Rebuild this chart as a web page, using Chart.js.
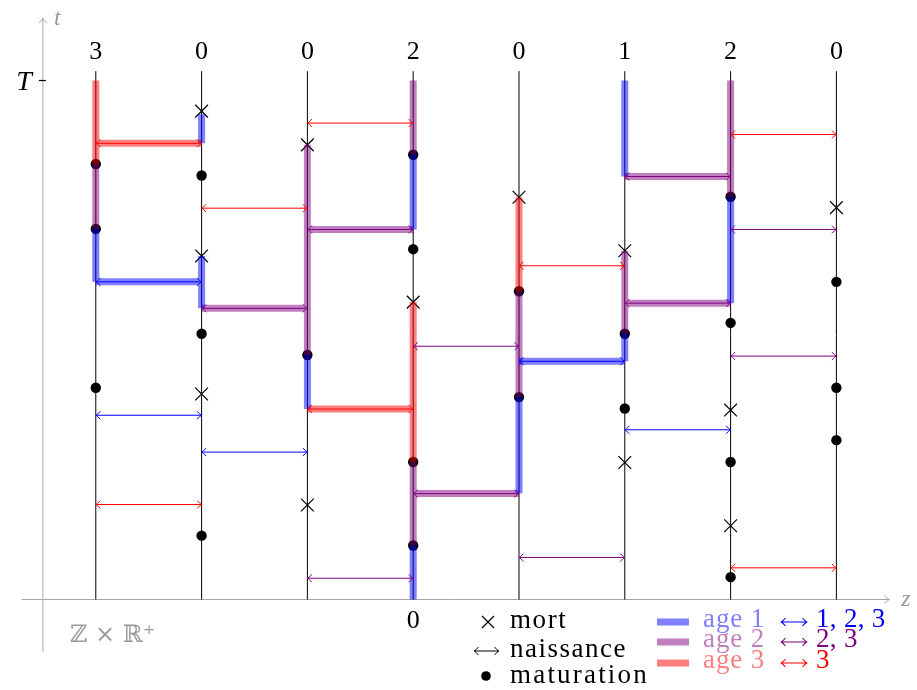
<!DOCTYPE html>
<html>
<head>
<meta charset="utf-8">
<script src="https://cdn.jsdelivr.net/npm/chart.js@4.4.0/dist/chart.umd.min.js"></script>
<style>
  html, body { margin: 0; padding: 0; background: #fff; }
  canvas { display: block; }
</style>
</head>
<body>
<canvas id="chart" width="917" height="690"></canvas>
<script>
// sites (z) and their counts shown on top
const SITES = [1, 2, 3, 4, 5, 6, 7, 8];
const SITE_LABELS = ['3', '0', '0', '2', '0', '1', '2', '0'];
const T_END = 10;        // final time T
const SITE_TOP = 10.18;  // vertical lines go slightly above T

// age 1, 2, 3
const AGE_COLORS = ['#0000ff', '#800080', '#ff0000'];
const AGE_FILL = ['rgba(0,0,255,0.5)', 'rgba(128,0,128,0.5)', 'rgba(255,0,0,0.5)'];
const AGE_LIGHT = ['#8080ff', '#bf80bf', '#ff8080'];

// maturation events [site, t]
const maturations = [
  [1, 8.39], [1, 7.14], [1, 4.08],
  [2, 8.17], [2, 5.12], [2, 1.23],
  [3, 4.71],
  [4, 8.57], [4, 6.75], [4, 2.65], [4, 1.04],
  [5, 5.94], [5, 3.90],
  [6, 5.12], [6, 3.68],
  [7, 7.76], [7, 5.33], [7, 2.65], [7, 0.43],
  [8, 6.12], [8, 4.08], [8, 3.07]
];

// deaths [site, t]
const deaths = [
  [2, 9.41], [2, 6.62], [2, 3.96],
  [3, 8.76], [3, 1.82],
  [4, 5.73],
  [5, 7.75],
  [6, 6.72], [6, 2.64],
  [7, 3.65], [7, 1.42],
  [8, 7.55]
];

// births [site a, site b, t, age of parent, traced]
const births = [
  [1, 2, 8.79, 3, 1], [1, 2, 6.12, 1, 1], [1, 2, 3.55, 1, 0], [1, 2, 1.83, 3, 0],
  [2, 3, 7.54, 3, 0], [2, 3, 5.61, 2, 1], [2, 3, 2.84, 1, 0],
  [3, 4, 9.18, 3, 0], [3, 4, 7.13, 2, 1], [3, 4, 3.67, 3, 1], [3, 4, 0.41, 2, 0],
  [4, 5, 4.88, 2, 0], [4, 5, 2.04, 2, 1],
  [5, 6, 6.43, 3, 0], [5, 6, 4.59, 1, 1], [5, 6, 0.81, 2, 0],
  [6, 7, 8.15, 2, 1], [6, 7, 5.71, 2, 1], [6, 7, 3.27, 1, 0],
  [7, 8, 8.96, 3, 0], [7, 8, 7.13, 2, 0], [7, 8, 4.69, 2, 0], [7, 8, 0.61, 3, 0]
];

// traced lineage, vertical pieces [site, t from, t to, age]
const lineage = [
  [1, 8.39, 10, 3], [1, 7.14, 8.39, 2], [1, 6.12, 7.14, 1],
  [2, 8.79, 9.35, 1], [2, 5.61, 6.62, 1],
  [3, 4.71, 8.76, 2], [3, 3.67, 4.71, 1],
  [4, 8.57, 10, 2], [4, 7.13, 8.57, 1], [4, 2.65, 5.73, 3], [4, 1.04, 2.65, 2], [4, 0, 1.04, 1],
  [5, 5.94, 7.75, 3], [5, 3.90, 5.94, 2], [5, 2.04, 3.90, 1],
  [6, 8.15, 10, 1], [6, 5.12, 6.72, 2], [6, 4.59, 5.12, 1],
  [7, 7.76, 10, 2], [7, 5.71, 7.76, 1]
];

// axes extents
const AXIS_X = 0.5;
const X_AXIS_RANGE = [0.3, 8.5];
const Y_AXIS_RANGE = [-1.0, 11.2];

const SERIF = '"Liberation Serif", "DejaVu Serif", serif';

const datasets = [];

datasets.push({
  data: SITES.flatMap(s => [{ x: s, y: 0 }, { x: s, y: SITE_TOP }, { x: s, y: null }]),
  borderColor: '#000',
  borderWidth: 1,
  pointRadius: 0,
  order: 10
});

datasets.push({
  data: maturations.map(([s, t]) => ({ x: s, y: t })),
  showLine: false,
  pointRadius: 5.2,
  pointBackgroundColor: '#000',
  pointBorderWidth: 0,
  order: 6
});

datasets.push({
  data: deaths.map(([s, t]) => ({ x: s, y: t })),
  showLine: false,
  pointStyle: 'crossRot',
  pointRadius: 9,
  pointBorderColor: '#000',
  pointBorderWidth: 1.2,
  order: 6
});

[1, 2, 3].forEach(age => {
  const pts = [];
  lineage.filter(l => l[3] === age).forEach(([s, t0, t1]) => {
    pts.push({ x: s, y: t0 }, { x: s, y: t1 }, { x: s, y: null });
  });
  births.filter(b => b[4] && b[3] === age).forEach(([a, b, t]) => {
    pts.push({ x: a, y: t }, { x: b, y: t }, { x: b, y: null });
  });
  datasets.push({
    data: pts,
    borderColor: AGE_FILL[age - 1],
    borderWidth: 7,
    borderCapStyle: 'butt',
    pointRadius: 0,
    order: 2
  });
});

function arrowLine(ctx, x1, x2, yy, color, w) {
  ctx.strokeStyle = color;
  ctx.lineWidth = w;
  ctx.beginPath();
  ctx.moveTo(x1, yy);
  ctx.lineTo(x2, yy);
  ctx.moveTo(x1 + 4.5, yy - 4);
  ctx.quadraticCurveTo(x1 + 1.5, yy - 0.6, x1 + 0.3, yy);
  ctx.quadraticCurveTo(x1 + 1.5, yy + 0.6, x1 + 4.5, yy + 4);
  ctx.moveTo(x2 - 4.5, yy - 4);
  ctx.quadraticCurveTo(x2 - 1.5, yy - 0.6, x2 - 0.3, yy);
  ctx.quadraticCurveTo(x2 - 1.5, yy + 0.6, x2 - 4.5, yy + 4);
  ctx.stroke();
}

function label(ctx, s, x, y, font, color, align, spacing) {
  ctx.font = font;
  ctx.fillStyle = color;
  ctx.textAlign = align || 'left';
  ctx.textBaseline = 'alphabetic';
  ctx.letterSpacing = spacing || '0px';
  ctx.fillText(s, x, y);
  ctx.letterSpacing = '0px';
}

const overlay = {
  id: 'overlay',
  beforeDatasetsDraw(chart) {
    const { ctx, scales: { x, y } } = chart;
    const ax = x.getPixelForValue(AXIS_X);
    const ay = y.getPixelForValue(0);
    const xr = x.getPixelForValue(X_AXIS_RANGE[1]);
    const yt = y.getPixelForValue(Y_AXIS_RANGE[1]);
    ctx.save();
    ctx.strokeStyle = '#a6a6a6';
    ctx.lineWidth = 1;
    ctx.beginPath();
    ctx.moveTo(x.getPixelForValue(X_AXIS_RANGE[0]), ay);
    ctx.lineTo(xr, ay);
    ctx.moveTo(xr - 5, ay - 4); ctx.quadraticCurveTo(xr - 1.5, ay - 0.6, xr, ay);
    ctx.quadraticCurveTo(xr - 1.5, ay + 0.6, xr - 5, ay + 4);
    ctx.moveTo(ax, y.getPixelForValue(Y_AXIS_RANGE[0]));
    ctx.lineTo(ax, yt);
    ctx.moveTo(ax - 4, yt + 5); ctx.quadraticCurveTo(ax - 0.6, yt + 1.5, ax, yt);
    ctx.quadraticCurveTo(ax + 0.6, yt + 1.5, ax + 4, yt + 5);
    ctx.stroke();
    // T tick
    const yT = y.getPixelForValue(T_END);
    ctx.strokeStyle = '#000';
    ctx.lineWidth = 1.2;
    ctx.beginPath();
    ctx.moveTo(ax - 4, yT);
    ctx.lineTo(ax + 3, yT);
    ctx.stroke();
    ctx.restore();
  },
  afterDatasetsDraw(chart) {
    const { ctx, scales: { x, y } } = chart;
    ctx.save();
    births.forEach(([a, b, t, age]) => {
      arrowLine(ctx, x.getPixelForValue(a), x.getPixelForValue(b), y.getPixelForValue(t), AGE_COLORS[age - 1], 1);
    });

    const ax = x.getPixelForValue(AXIS_X);
    const ay = y.getPixelForValue(0);
    const yT = y.getPixelForValue(T_END);
    const f = '26px ' + SERIF;
    const fl = '27px ' + SERIF;

    SITES.forEach((s, i) => label(ctx, SITE_LABELS[i], x.getPixelForValue(s), yT - 22, f, '#000', 'center'));
    label(ctx, 'T', ax - 11, yT + 9, 'italic 28px ' + SERIF, '#000', 'right');
    label(ctx, '0', x.getPixelForValue(4), ay + 28, f, '#000', 'center');
    label(ctx, 't', ax + 11, 25, 'italic 24px ' + SERIF, '#999', 'left');
    label(ctx, 'z', x.getPixelForValue(X_AXIS_RANGE[1]) + 12, ay + 6, 'italic 24px ' + SERIF, '#999', 'left');
    label(ctx, 'ℤ × ℝ⁺', ax + 27, ay + 42, '24px "DejaVu Serif", serif', '#9a9a9a', 'left');

    // legend, left block
    ctx.strokeStyle = '#000';
    ctx.lineWidth = 1.2;
    ctx.beginPath();
    ctx.moveTo(482, 616); ctx.lineTo(494, 628);
    ctx.moveTo(494, 616); ctx.lineTo(482, 628);
    ctx.stroke();
    arrowLine(ctx, 474, 499, 651, '#000', 1);
    ctx.fillStyle = '#000';
    ctx.beginPath();
    ctx.arc(486, 676, 4.8, 0, Math.PI * 2);
    ctx.fill();
    label(ctx, 'mort', 510, 628, fl, '#000', 'left', '1.6px');
    label(ctx, 'naissance', 510, 657, fl, '#000', 'left', '1.5px');
    label(ctx, 'maturation', 510, 683, fl, '#000', 'left', '2.2px');

    // legend, right block
    const rows = [
      { y: 622, base: 627, txt: '1, 2, 3' },
      { y: 642, base: 647, txt: '2, 3' },
      { y: 663, base: 668, txt: '3' }
    ];
    rows.forEach((r, i) => {
      ctx.strokeStyle = AGE_FILL[i];
      ctx.lineWidth = 7;
      ctx.beginPath();
      ctx.moveTo(657, r.y);
      ctx.lineTo(689, r.y);
      ctx.stroke();
      label(ctx, 'age ' + (i + 1), 703, r.base, fl, AGE_LIGHT[i], 'left', '0.9px');
      arrowLine(ctx, 781, 807, r.y, AGE_COLORS[i], 1.1);
      label(ctx, r.txt, 816, r.base, fl, AGE_COLORS[i], 'left', '0.3px');
    });
    ctx.restore();
  }
};

new Chart(document.getElementById('chart'), {
  type: 'line',
  data: { datasets },
  options: {
    responsive: false,
    animation: false,
    devicePixelRatio: 1,
    events: [],
    layout: { padding: 0, autoPadding: false },
    plugins: { legend: { display: false }, tooltip: { enabled: false } },
    scales: {
      x: { type: 'linear', min: 1 - 95.8 / 105.8, max: 1 + (917 - 95.8) / 105.8, display: false },
      y: { type: 'linear', min: -(690 - 599.5) / 51.9, max: 599.5 / 51.9, display: false }
    }
  },
  plugins: [overlay]
});
</script>
</body>
</html>
